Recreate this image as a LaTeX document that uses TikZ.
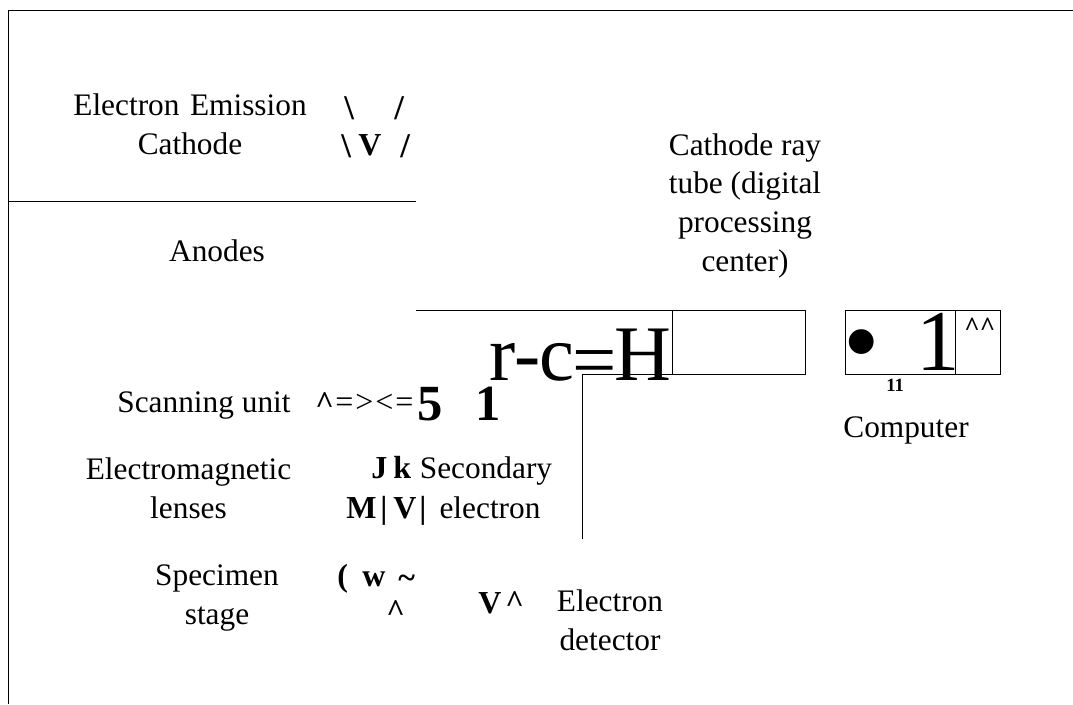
\documentclass[tikz,border=0pt]{standalone}
\usepackage{fontspec}
\setmainfont{Liberation Serif}
\tikzset{
    lbl/.style={inner sep=0pt, anchor=base, align=center, font=\fontsize{23.5}{29}\selectfont},
    ocr/.style={inner sep=0pt, anchor=base west, font=\fontsize{24}{24}\selectfont\bfseries},
    rule/.style={black, line width=0.75pt},
    boxed/.style={rule, draw, minimum height=48pt, inner sep=0pt, outer sep=0pt, anchor=north west}
}
\begin{document}
\begin{tikzpicture}[x=0.75pt, y=-0.75pt]
            \useasboundingbox (0,0) rectangle (1073,704);
            % outer frame and divider
            \coordinate (topleft) at (8.5,10.5);
            \coordinate (topright) at (1073,10.5);
            \coordinate (bottomleft) at (8.5,704);
            \coordinate (dividerstart) at (8.5,201.5);
            \coordinate (divider) at (416,201.5);
            \draw[rule] (bottomleft) -- (topleft) -- (topright);
            \draw[rule] (dividerstart) -- (divider);
            % boxes
            \coordinate (beamstart) at (416,310.5);
            \coordinate (detectortop) at (582.5,374.5);
            \coordinate (detectorend) at (582.5,539);
            \node[boxed, minimum width=99.75pt] (tube) at (672.5,310.5) {};
            \node[boxed, minimum width=82.5pt] (screen) at (845.5,310.5) {};
            \node[boxed, minimum width=33.75pt] (keys) at (955.5,310.5) {};
            \draw[rule] (beamstart) -- (tube.north west);
            \draw[rule] (detectorend) -- (detectortop) -- (tube.south west);
            % labels
            \node[lbl] (emission) at (190,154) {Electron\kern2pt{} Emission\\Cathode};
            \node[lbl] (anodes) at (217,261) {Anodes};
            \node[lbl] (crt) at (745,271) {Cathode ray\\tube (digital\\processing\\center)};
            \node[lbl] (scanning) at (204,412) {Scanning unit};
            \node[lbl] (computer) at (906,437) {Computer};
            \node[lbl] (lenses) at (188.5,518) {Electromagnetic\\lenses};
            \node[lbl] (secondary) at (486,478) {Secondary};
            \node[lbl] (secondaryb) at (490,518) {electron};
            \node[lbl] (specimen) at (217,624) {Specimen\\stage};
            \node[lbl] (detector) at (610,650) {Electron\\detector};
            % scanned fragments
            \node[ocr, font=\fontsize{26}{26}\selectfont\bfseries] (slasha) at (344,119) {\textbackslash};
            \node[ocr, font=\fontsize{26}{26}\selectfont\bfseries] (slashb) at (394,119) {/};
            \node[ocr, font=\fontsize{26}{26}\selectfont\bfseries] (slashc) at (341,157) {\textbackslash};
            \node[ocr] (vee) at (358,155) {V};
            \node[ocr, font=\fontsize{26}{26}\selectfont\bfseries] (slashd) at (400,157) {/};
            \node[ocr] (scancaret) at (315,413) {\textasciicircum};
            \node[ocr, font=\fontsize{24}{24}\selectfont] (scana) at (335,412) {=\kern1.5pt>\kern1.5pt<\kern1.5pt=};
            \node[ocr, font=\fontsize{38}{38}\selectfont\bfseries] (five) at (417,420) {5};
            \node[ocr, font=\fontsize{38}{38}\selectfont\bfseries] (one) at (475,420) {1};
            \node[ocr, font=\fontsize{59}{59}\selectfont\mdseries] (bigtext) at (489,380) {r\kern-1pt-\kern-1pt{}c\kern-1pt\raisebox{-4.5pt}{=}\kern-1.5pt{}H};
            \node[ocr, font=\fontsize{78}{78}\selectfont\mdseries] (dot) at (843,376) {•};
            \node[ocr, font=\fontsize{65}{65}\selectfont\mdseries] (bigone) at (916,370) {1};
            \node[ocr, font=\fontsize{20}{20}\selectfont\bfseries] (carets) at (964,335) {\textasciicircum{}\textasciicircum{}};
            \node[ocr, font=\fontsize{14}{14}\selectfont\bfseries] (eleven) at (886,391) {11};
            \node[ocr] (jay) at (371,478) {J};
            \node[ocr] (kay) at (393,478) {k};
            \node[ocr] (em) at (346,518) {M};
            \node[ocr] (bara) at (380,518) {|};
            \node[ocr] (veeb) at (393,518) {V};
            \node[ocr] (barb) at (419,518) {|};
            \node[ocr] (paren) at (337,586) {(};
            \node[ocr] (dub) at (362,586) {w};
            \node[ocr] (tilde) at (398,588) {\textasciitilde};
            \node[ocr] (caret) at (386,621) {\textasciicircum};
            \node[ocr] (veec) at (478,613) {V};
            \node[ocr] (caretb) at (505,612) {\textasciicircum};
\end{tikzpicture}
\end{document}
